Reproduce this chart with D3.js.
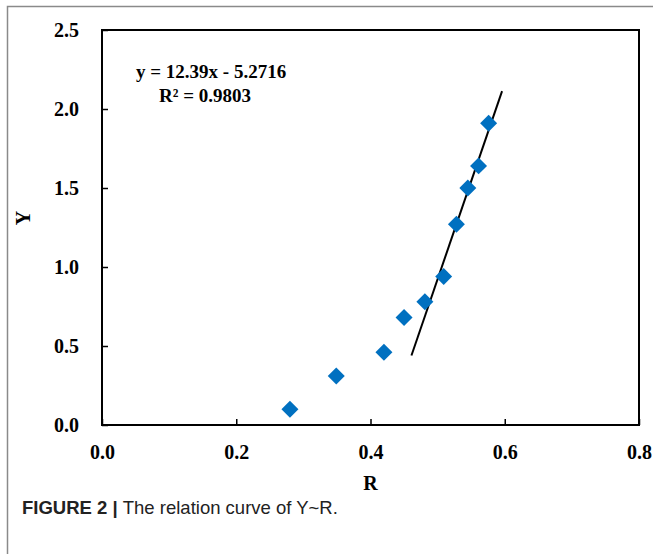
<!DOCTYPE html>
<html>
<head>
<meta charset="utf-8">
<script src="https://cdn.jsdelivr.net/npm/d3@7"></script>
<style>
  body { margin: 0; background: #fff; }
  svg { display: block; }
  .tick text { font-family: "Liberation Serif", "Times New Roman", serif; font-weight: bold; font-size: 20px; fill: #000; }
</style>
</head>
<body>
<svg id="chart" width="653" height="554"></svg>
<script>
// data
var rValues = [0.280, 0.349, 0.420, 0.450, 0.481, 0.509, 0.528, 0.545, 0.561, 0.576];
var yValues = [0.10, 0.31, 0.46, 0.68, 0.78, 0.94, 1.27, 1.50, 1.64, 1.91];
var xTicks = [0, 0.2, 0.4, 0.6, 0.8];
var yTicks = [0, 0.5, 1.0, 1.5, 2.0, 2.5];
var fitSlope = 12.39, fitIntercept = -5.2716;
var fitRange = [0.461, 0.596];

var svg = d3.select("#chart");
var plotLeft = 102, plotRight = 639, plotTop = 30, plotBottom = 425;

var x = d3.scaleLinear().domain([0, 0.8]).range([plotLeft, plotRight]);
var y = d3.scaleLinear().domain([0, 2.5]).range([plotBottom, plotTop]);

// outer frame (only top and left visible)
svg.append("path")
  .attr("d", "M7.5,554 L7.5,6.5 L653,6.5")
  .attr("fill", "none")
  .attr("stroke", "#8a8a8a")
  .attr("stroke-width", 1.5);

// axes
var xAxis = d3.axisBottom(x).tickValues(xTicks).tickFormat(d3.format(".1f"))
  .tickSize(-6).tickPadding(20);
var yAxis = d3.axisLeft(y).tickValues(yTicks).tickFormat(d3.format(".1f"))
  .tickSize(-6).tickPadding(23);

var gx = svg.append("g").attr("transform", "translate(0," + plotBottom + ")").call(xAxis);
var gy = svg.append("g").attr("transform", "translate(" + plotLeft + ",0)").call(yAxis);
gx.select(".domain").remove();
gy.select(".domain").remove();
svg.selectAll(".tick line").attr("stroke", "#000").attr("stroke-width", 1.5);

// plot box
svg.append("rect")
  .attr("x", plotLeft).attr("y", plotTop)
  .attr("width", plotRight - plotLeft).attr("height", plotBottom - plotTop)
  .attr("fill", "none")
  .attr("stroke", "#000")
  .attr("stroke-width", 2);

// trend line
svg.append("line")
  .attr("x1", x(fitRange[0])).attr("y1", y(fitSlope * fitRange[0] + fitIntercept))
  .attr("x2", x(fitRange[1])).attr("y2", y(fitSlope * fitRange[1] + fitIntercept))
  .attr("stroke", "#000")
  .attr("stroke-width", 2);

// diamond markers
var diamond = d3.symbol().type(d3.symbolSquare).size(144);
svg.append("g")
  .selectAll("path.pt")
  .data(rValues)
  .enter()
  .append("path")
  .classed("pt", true)
  .attr("d", diamond)
  .attr("transform", function(d, i) { return "translate(" + x(d) + "," + y(yValues[i]) + ") rotate(45)"; })
  .attr("fill", "#0070C0");

// equation
var eq = svg.append("g")
  .style("font-family", "'Liberation Serif', 'Times New Roman', serif")
  .style("font-weight", "bold")
  .style("font-size", "19px");
eq.append("text").attr("x", 136).attr("y", 78).text("y = 12.39x - 5.2716");
eq.append("text").attr("x", 159).attr("y", 102).text("R\u00B2 = 0.9803");

// axis titles
svg.append("text")
  .attr("x", (plotLeft + plotRight) / 2).attr("y", 490)
  .attr("text-anchor", "middle")
  .style("font-family", "'Liberation Serif', 'Times New Roman', serif")
  .style("font-weight", "bold").style("font-size", "20px")
  .text("R");
svg.append("text")
  .attr("transform", "translate(30,218) rotate(-90)")
  .attr("text-anchor", "middle")
  .style("font-family", "'Liberation Serif', 'Times New Roman', serif")
  .style("font-weight", "bold").style("font-size", "20px")
  .text("Y");

// caption
var cap = svg.append("text")
  .attr("x", 22).attr("y", 514)
  .style("font-family", "'Liberation Sans', Arial, sans-serif")
  .style("font-size", "18.5px")
  .attr("fill", "#222");
cap.append("tspan").style("font-weight", "bold").text("FIGURE 2 | ");
cap.append("tspan").text("The relation curve of Y~R.");
</script>
</body>
</html>
